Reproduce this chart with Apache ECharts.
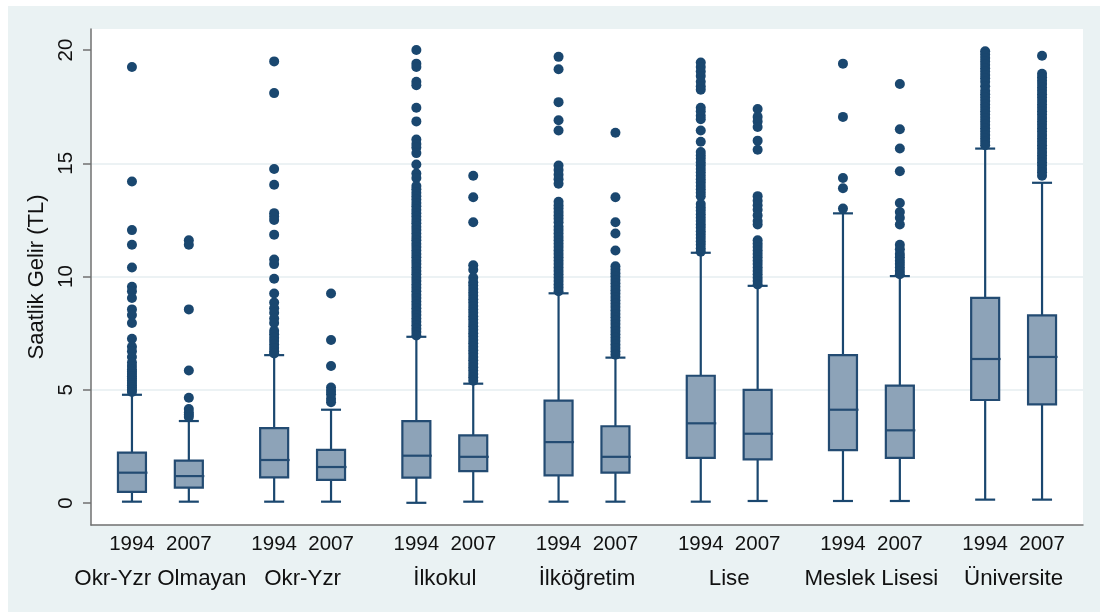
<!DOCTYPE html>
<html>
<head>
<meta charset="utf-8">
<script src="https://cdn.jsdelivr.net/npm/echarts@6/dist/echarts.min.js"></script>
<style>
  html, body { margin: 0; padding: 0; background: #ffffff; }
  #wrap { position: relative; width: 1100px; height: 612px; background: #ffffff; overflow: hidden; }
  #chart { position: absolute; left: 8px; top: 6px; width: 1092px; height: 606px; }
</style>
</head>
<body>
<div id="wrap"><div id="chart"></div></div>
<script>
// ---- data ----
const groups = ['Okr-Yzr Olmayan', 'Okr-Yzr', 'İlkokul', 'İlköğretim', 'Lise', 'Meslek Lisesi', 'Üniversite'];
const years = ['1994', '2007'];
const yTicks = [0, 5, 10, 15, 20];

// [lower whisker, Q1, median, Q3, upper whisker] per group & year
const stats1994 = [
  [0.06, 0.49, 1.34, 2.23, 4.78],
  [0.06, 1.13, 1.90, 3.31, 6.53],
  [0.01, 1.12, 2.09, 3.62, 7.34],
  [0.06, 1.22, 2.69, 4.52, 9.26],
  [0.06, 1.99, 3.52, 5.62, 11.05],
  [0.09, 2.34, 4.12, 6.53, 12.79],
  [0.15, 4.55, 6.36, 9.06, 15.65]
];
const stats2007 = [
  [0.06, 0.68, 1.19, 1.87, 3.62],
  [0.06, 1.02, 1.59, 2.35, 4.12],
  [0.06, 1.41, 2.04, 2.99, 5.27],
  [0.06, 1.34, 2.04, 3.39, 6.42],
  [0.09, 1.93, 3.06, 5.00, 9.59],
  [0.09, 1.99, 3.21, 5.18, 10.02],
  [0.15, 4.36, 6.45, 8.29, 14.14]
];

const outliers1994 = [
  [19.25, 14.2, 12.05, 11.4, 10.4, 9.55, 9.35, 9.05, 8.55, 8.3, 7.95, 7.25, 6.9, 6.7, 6.45, 6.2, 6.05, 5.9, 5.8, 5.7, 5.6, 5.5, 5.4, 5.3, 5.2, 5.1, 5.0, 4.9],
  [19.5, 18.1, 14.75, 14.05, 12.8, 12.65, 12.5, 11.85, 10.75, 10.55, 9.9, 9.25, 8.85, 8.6, 8.4, 8.15, 7.95, 7.6, 7.45, 7.3, 7.15, 7.0, 6.85, 6.7, 6.6],
  [20.0, 19.4, 19.25, 18.6, 18.45, 17.45, 16.85, 16.05, 15.85, 15.7, 15.45, 14.95, 14.55, 14.35, 14.0, 13.85, 13.7, 13.55, 13.4, 13.25, 13.1, 12.95, 12.8, 12.65, 12.5, 12.35, 12.2, 12.05, 11.9, 11.75, 11.6, 11.45, 11.3, 11.15, 11.0, 10.85, 10.7, 10.55, 10.4, 10.25, 10.1, 9.95, 9.8, 9.65, 9.5, 9.35, 9.2, 9.05, 8.9, 8.75, 8.6, 8.45, 8.3, 8.15, 8.0, 7.85, 7.7, 7.55, 7.4],
  [19.7, 19.15, 17.7, 16.9, 16.45, 14.9, 14.7, 14.5, 14.3, 14.1, 13.3, 13.15, 13.0, 12.85, 12.7, 12.55, 12.4, 12.2, 12.05, 11.9, 11.75, 11.6, 11.45, 11.3, 11.15, 11.0, 10.85, 10.7, 10.55, 10.4, 10.25, 10.1, 9.95, 9.8, 9.65, 9.5, 9.35],
  [19.45, 19.25, 19.05, 18.85, 18.6, 18.4, 18.25, 17.45, 17.3, 17.1, 16.95, 16.45, 15.95, 15.5, 15.35, 15.2, 15.05, 14.9, 14.75, 14.6, 14.45, 14.3, 14.15, 14.0, 13.85, 13.7, 13.55, 13.2, 13.05, 12.9, 12.75, 12.6, 12.45, 12.3, 12.15, 12.0, 11.85, 11.7, 11.55, 11.4, 11.25, 11.1],
  [19.4, 17.05, 14.35, 13.9, 13.0],
  [19.95, 19.8, 19.65, 19.5, 19.35, 19.2, 19.05, 18.9, 18.75, 18.6, 18.4, 18.2, 18.05, 17.9, 17.75, 17.6, 17.45, 17.3, 17.15, 17.0, 16.85, 16.7, 16.55, 16.4, 16.25, 16.1, 15.95, 15.8]
];
const outliers2007 = [
  [11.6, 11.4, 8.55, 5.85, 4.65, 4.15, 4.0, 3.9, 3.8],
  [9.25, 7.2, 6.05, 5.1, 4.95, 4.8, 4.6, 4.45],
  [14.45, 13.5, 12.4, 10.5, 10.3, 9.95, 9.75, 9.6, 9.45, 9.3, 9.15, 9.0, 8.85, 8.7, 8.55, 8.4, 8.25, 8.1, 7.95, 7.8, 7.65, 7.5, 7.35, 7.2, 7.05, 6.9, 6.75, 6.6, 6.45, 6.3, 6.15, 6.0, 5.85, 5.7, 5.55, 5.4],
  [16.35, 13.5, 12.4, 11.9, 11.15, 10.45, 10.3, 10.15, 10.0, 9.85, 9.7, 9.55, 9.4, 9.25, 9.1, 8.95, 8.8, 8.65, 8.5, 8.35, 8.2, 8.05, 7.9, 7.75, 7.6, 7.45, 7.3, 7.15, 7.0, 6.85, 6.7, 6.55],
  [17.4, 17.05, 16.85, 16.6, 16.0, 15.6, 13.55, 13.35, 13.15, 12.95, 12.7, 12.45, 12.3, 11.6, 11.45, 11.3, 11.15, 11.0, 10.85, 10.7, 10.55, 10.4, 10.25, 10.1, 9.95, 9.8, 9.65],
  [18.5, 16.5, 15.65, 14.65, 13.25, 12.85, 12.6, 12.3, 11.4, 11.2, 11.0, 10.85, 10.7, 10.55, 10.4, 10.25, 10.1],
  [19.75, 18.95, 18.8, 18.65, 18.5, 18.35, 18.2, 18.05, 17.9, 17.75, 17.6, 17.45, 17.3, 17.15, 17.0, 16.85, 16.7, 16.55, 16.4, 16.25, 16.1, 15.95, 15.8, 15.65, 15.5, 15.35, 15.2, 15.05, 14.9, 14.75, 14.6, 14.45]
];

// ---- build layout (positions along a value x axis) ----
const GROUP_STEP = 2.5;
const statsByYear = [stats1994, stats2007];
const outByYear = [outliers1994, outliers2007];
const boxData = [];
const pointData = [];
const yearPos = [];
const yearLab = [];
const groupPos = [];
groups.forEach((g, gi) => {
  groupPos.push(gi * GROUP_STEP + 0.5);
  years.forEach((yr, yi) => {
    const x = gi * GROUP_STEP + yi;
    yearPos.push(x);
    yearLab.push(yr);
    boxData.push([x].concat(statsByYear[yi][gi]));
    outByYear[yi][gi].forEach(v => pointData.push([x, v]));
  });
});
function nearestIdx(arr, v) {
  let b = 0;
  for (let i = 1; i < arr.length; i++) if (Math.abs(arr[i] - v) < Math.abs(arr[b] - v)) b = i;
  return b;
}

const NAVY = '#1a476f';
const FILL = '#8da3b8';
const FONT = 'Liberation Sans, Arial, sans-serif';

const chart = echarts.init(document.getElementById('chart'), null, { renderer: 'canvas' });
chart.setOption({
  backgroundColor: '#eaf2f3',
  animation: false,
  grid: { left: 83, top: 23, right: 17, bottom: 87, show: true, backgroundColor: '#ffffff', borderWidth: 0 },
  xAxis: [
    {
      type: 'value', min: -0.72, max: 16.72,
      axisLine: { show: true, onZero: false, lineStyle: { color: '#707070', width: 1.5 } },
      axisTick: { show: false },
      splitLine: { show: false },
      axisLabel: {
        customValues: yearPos,
        margin: 9,
        color: '#111', fontFamily: FONT, fontSize: 20.5,
        formatter: v => yearLab[nearestIdx(yearPos, v)]
      }
    },
    {
      type: 'value', min: -0.72, max: 16.72, position: 'bottom',
      axisLine: { show: false, onZero: false },
      axisTick: { show: false },
      splitLine: { show: false },
      axisLabel: {
        customValues: groupPos,
        margin: 43,
        color: '#111', fontFamily: FONT, fontSize: 22.3,
        formatter: v => groups[nearestIdx(groupPos, v)]
      }
    }
  ],
  yAxis: {
    type: 'value', min: -0.97, max: 20.93, splitNumber: 5,
    name: 'Saatlik Gelir (TL)', nameLocation: 'middle', nameGap: 31, nameRotate: 90,
    nameTextStyle: { color: '#111', fontFamily: FONT, fontSize: 22 },
    axisLine: { show: true, onZero: false, lineStyle: { color: '#707070', width: 1.5 } },
    axisTick: { show: true, customValues: yTicks, length: 8, lineStyle: { color: '#707070', width: 1.5 } },
    axisLabel: { customValues: yTicks, rotate: 90, margin: 14, color: '#111', fontFamily: FONT, fontSize: 20.5 },
    splitLine: { show: true, showMinLine: false, showMaxLine: false, lineStyle: { color: '#e6eef0', width: 1.6 } }
  },
  series: [
    {
      type: 'custom',
      z: 2,
      data: boxData,
      encode: { x: 0, y: [1, 2, 3, 4, 5] },
      renderItem: function (params, api) {
        const x = api.value(0);
        const pL = api.coord([x, api.value(1)]);
        const p1 = api.coord([x, api.value(2)]);
        const pM = api.coord([x, api.value(3)]);
        const p3 = api.coord([x, api.value(4)]);
        const pH = api.coord([x, api.value(5)]);
        const cx = pL[0];
        const bw = 28, cw = 20;
        const ls = { stroke: NAVY, lineWidth: 2.2 };
        return {
          type: 'group',
          children: [
            { type: 'line', shape: { x1: cx, y1: p1[1], x2: cx, y2: pL[1] }, style: ls },
            { type: 'line', shape: { x1: cx, y1: p3[1], x2: cx, y2: pH[1] }, style: ls },
            { type: 'line', shape: { x1: cx - cw / 2, y1: pL[1], x2: cx + cw / 2, y2: pL[1] }, style: ls },
            { type: 'line', shape: { x1: cx - cw / 2, y1: pH[1], x2: cx + cw / 2, y2: pH[1] }, style: ls },
            { type: 'rect', shape: { x: cx - bw / 2, y: p3[1], width: bw, height: p1[1] - p3[1] },
              style: { fill: FILL, stroke: '#234b72', lineWidth: 2.2 } },
            { type: 'line', shape: { x1: cx - bw / 2, y1: pM[1], x2: cx + bw / 2 + 1.5, y2: pM[1] },
              style: { stroke: '#234b72', lineWidth: 2.2 } }
          ]
        };
      }
    },
    {
      type: 'scatter',
      z: 3,
      data: pointData,
      symbol: 'circle',
      symbolSize: 10,
      itemStyle: { color: NAVY, opacity: 1 }
    }
  ]
});
</script>
</body>
</html>
